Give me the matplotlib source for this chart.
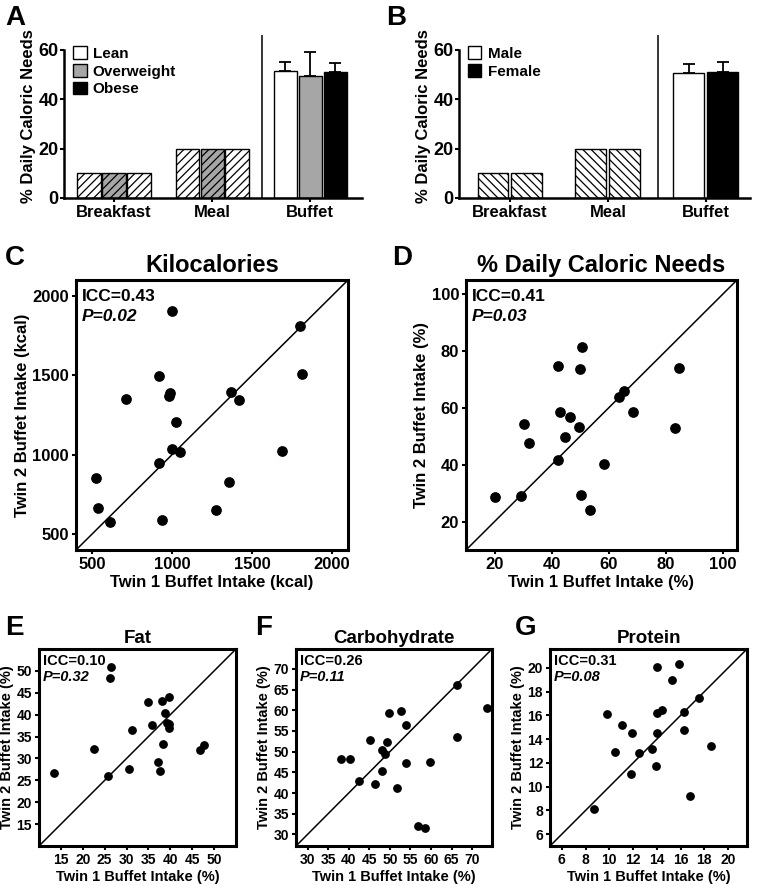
import matplotlib
matplotlib.use("Agg")
import matplotlib.pyplot as plt
import numpy as np

plt.rcParams['font.family'] = ['Liberation Sans', 'DejaVu Sans']
plt.rcParams['font.weight'] = 'bold'
plt.rcParams['axes.labelweight'] = 'bold'
plt.rcParams['axes.titleweight'] = 'bold'
plt.rcParams['hatch.linewidth'] = 0.9

# ---- datos panel A / B ----
meal_labels = ['Breakfast', 'Meal', 'Buffet']
breakfast_pct = 10
meal_pct = 20

bmi_groups = ['Lean', 'Overweight', 'Obese']
bmi_colors = ['white', '#a6a6a6', 'black']
bmi_fixed_fill = ['white', '#a6a6a6', 'white']
buffet_bmi_mean = [51.5, 49.2, 51.0]
buffet_bmi_sem = [3.4, 9.9, 3.7]

sex_groups = ['Male', 'Female']
sex_colors = ['white', 'black']
buffet_sex_mean = [50.8, 51.1]
buffet_sex_sem = [3.3, 4.0]

# ---- datos scatter (twin 1, twin 2) ----
kcal_t1 = [1003, 1803, 1813, 916, 712, 987, 981, 1368, 1416, 1026,
           1001, 1053, 916, 1690, 527, 1357, 535, 610, 1274, 935]
kcal_t2 = [1903, 1808, 1510, 1495, 1351, 1387, 1368, 1396, 1343, 1208,
           1036, 1017, 950, 1024, 853, 827, 665, 578, 650, 591]

pct_t1 = [50.5, 42.4, 50.1, 84.6, 65.3, 63.6, 42.8, 68.7, 46.6, 30.4,
          49.6, 44.8, 32.2, 83.4, 42.1, 58.4, 20.1, 29.2, 50.4, 53.6]
pct_t2 = [81.4, 74.8, 73.8, 73.9, 66.1, 63.9, 58.7, 58.7, 56.7, 54.2,
          53.2, 49.9, 47.8, 52.9, 41.8, 40.2, 28.7, 28.9, 29.4, 24.2]

fat_t1 = [26.4, 26.2, 35.0, 38.2, 39.8, 38.8, 35.8, 39.2, 39.8, 39.8,
          31.2, 22.5, 38.3, 46.8, 47.6, 37.2, 37.6, 30.5, 25.7, 13.4]
fat_t2 = [50.8, 48.4, 42.9, 43.1, 44.0, 40.3, 37.6, 38.1, 37.9, 36.9,
          36.5, 32.1, 33.3, 31.9, 33.0, 29.2, 27.2, 27.5, 26.0, 26.6]

carb_t1 = [66.3, 73.5, 49.8, 52.7, 53.9, 66.3, 45.1, 49.3, 48.2, 48.8,
           38.1, 40.2, 53.9, 59.7, 48.1, 42.5, 46.4, 51.7, 56.8, 58.6]
carb_t2 = [66.0, 60.5, 59.3, 59.9, 56.5, 53.5, 52.9, 52.3, 50.5, 49.5,
           48.2, 48.2, 47.3, 47.6, 45.3, 42.8, 42.3, 41.1, 32.0, 31.6]

prot_t1 = [14.0, 15.9, 15.3, 17.55, 9.8, 14.0, 14.4, 16.3, 11.05, 11.9,
           14.0, 16.3, 18.6, 10.5, 12.5, 13.6, 13.9, 11.8, 16.8, 8.7]
prot_t2 = [20.1, 20.3, 19.0, 17.5, 16.1, 16.2, 16.45, 16.25, 15.2, 14.5,
           14.5, 14.8, 13.4, 12.9, 12.8, 13.2, 11.7, 11.1, 9.2, 8.1]

fig = plt.figure(figsize=(7.6, 8.85), dpi=100)
W, H = 760, 885


def px_axes(left, top, right, bottom):
    return fig.add_axes([left / W, 1 - bottom / H, (right - left) / W, (bottom - top) / H])


def bar_panel(ax, offsets, width, fixed_fill, hatch, colors, means, sems, labels, xlim, sep):
    x = np.arange(len(meal_labels))
    for i, off in enumerate(offsets):
        ax.bar(x[0] + off, breakfast_pct, width, color=fixed_fill[i], edgecolor='black',
               hatch=hatch, linewidth=1.0, zorder=2)
        ax.bar(x[1] + off, meal_pct, width, color=fixed_fill[i], edgecolor='black',
               hatch=hatch, linewidth=1.0, zorder=2)
    handles = []
    for i, off in enumerate(offsets):
        b = ax.bar(x[2] + off, means[i], width, color=colors[i], edgecolor='black',
                   linewidth=1.0, zorder=2, label=labels[i])
        ax.errorbar(x[2] + off, means[i], yerr=[[0], [sems[i]]], color='black',
                    capsize=4, elinewidth=1.3, capthick=1.3, zorder=1)
        handles.append(b)
    ax.axvline(sep, color='black', lw=1.1)
    ax.set_xlim(*xlim)
    ax.set_ylim(0, 66)
    ax.set_yticks([0, 20, 40, 60])
    ax.set_xticks(x)
    ax.set_xticklabels(meal_labels, fontsize=12)
    ax.tick_params(axis='y', labelsize=13, direction='out', length=3, width=1.5, pad=1)
    ax.tick_params(axis='x', direction='out', length=3, width=1.5, pad=2)
    ax.spines['top'].set_visible(False)
    ax.spines['right'].set_visible(False)
    ax.spines['left'].set_bounds(0, 60)
    for s in ['left', 'bottom']:
        ax.spines[s].set_linewidth(1.8)
    ax.set_ylabel('% Daily Caloric Needs', fontsize=12, labelpad=2)
    ax.legend(handles=handles, loc='upper left', bbox_to_anchor=(0.03, 0.93), frameon=False,
              fontsize=11, handlelength=0.9, handleheight=0.9, handletextpad=0.4,
              labelspacing=0.2, borderpad=0, borderaxespad=0)


axA = px_axes(64, 35, 362, 198)
bar_panel(axA, [-0.255, 0, 0.255], 0.235, bmi_fixed_fill, '////', bmi_colors,
          buffet_bmi_mean, buffet_bmi_sem, bmi_groups, (-0.51, 2.53), 1.51)

axB = px_axes(459, 35, 750, 198)
bar_panel(axB, [-0.173, 0.173], 0.316, ['white', 'white'], '\\\\\\\\', sex_colors,
          buffet_sex_mean, buffet_sex_sem, sex_groups, (-0.52, 2.45), 1.51)


def scatter_panel(ax, x, y, lims, ticks, title, icc, p, xlabel, ylabel,
                  big=True):
    fs_tick = 12 if big else 10
    fs_lab = 12 if big else 10.5
    fs_title = 17 if big else 13.5
    fs_txt = 12.5 if big else 10.5
    ax.plot(lims, lims, color='black', lw=1.1, zorder=1)
    ax.scatter(x, y, s=45 if big else 28, color='black', zorder=3)
    ax.set_xlim(*lims)
    ax.set_ylim(*lims)
    ax.set_xticks(ticks)
    ax.set_yticks(ticks)
    ax.tick_params(labelsize=fs_tick, direction='out', length=3, width=1.5, pad=2)
    for s in ax.spines.values():
        s.set_linewidth(2.2)
    ax.set_title(title, fontsize=fs_title, pad=6 if big else 4)
    ax.set_xlabel(xlabel, fontsize=fs_lab, labelpad=2)
    ax.set_ylabel(ylabel, fontsize=fs_lab, labelpad=2)
    y1, y2 = (0.922, 0.848) if big else (0.919, 0.837)
    ax.text(0.02, y1, icc, transform=ax.transAxes, fontsize=fs_txt, fontweight='bold')
    ax.text(0.02, y2, p, transform=ax.transAxes, fontsize=fs_txt, fontweight='bold',
            style='italic')


axC = px_axes(76, 280, 348, 550)
scatter_panel(axC, kcal_t1, kcal_t2, (400, 2100), [500, 1000, 1500, 2000], 'Kilocalories',
              'ICC=0.43', 'P=0.02', 'Twin 1 Buffet Intake (kcal)', 'Twin 2 Buffet Intake (kcal)')

axD = px_axes(466, 280, 737, 550)
scatter_panel(axD, pct_t1, pct_t2, (10, 105), [20, 40, 60, 80, 100], '% Daily Caloric Needs',
              'ICC=0.41', 'P=0.03', 'Twin 1 Buffet Intake (%)', 'Twin 2 Buffet Intake (%)')

axE = px_axes(39, 649, 236, 846)
scatter_panel(axE, fat_t1, fat_t2, (10, 55), [15, 20, 25, 30, 35, 40, 45, 50], 'Fat',
              'ICC=0.10', 'P=0.32', 'Twin 1 Buffet Intake (%)', 'Twin 2 Buffet Intake (%)',
              big=False)

axF = px_axes(296, 649, 492, 846)
scatter_panel(axF, carb_t1, carb_t2, (27.2, 74.8), [30, 35, 40, 45, 50, 55, 60, 65, 70],
              'Carbohydrate', 'ICC=0.26', 'P=0.11', 'Twin 1 Buffet Intake (%)',
              'Twin 2 Buffet Intake (%)', big=False)

axG = px_axes(550, 649, 747, 846)
scatter_panel(axG, prot_t1, prot_t2, (5, 21.6), [6, 8, 10, 12, 14, 16, 18, 20], 'Protein',
              'ICC=0.31', 'P=0.08', 'Twin 1 Buffet Intake (%)', 'Twin 2 Buffet Intake (%)',
              big=False)

# letras de panel
for letter, xp, yp in [('A', 5, 25), ('B', 386, 25), ('C', 5, 265), ('D', 392, 265),
                       ('E', 5, 635), ('F', 255, 635), ('G', 515, 635)]:
    fig.text(xp / W, 1 - yp / H, letter, fontsize=20, fontweight='bold', va='baseline')

fig.savefig('out.png', dpi=100)
